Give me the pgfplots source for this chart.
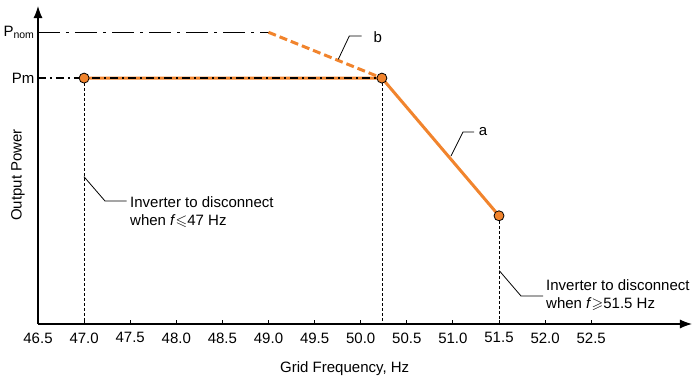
\documentclass[border=0pt]{standalone}
\usepackage{pgfplots}
\pgfplotsset{compat=1.18}
\usepackage{amssymb}
\usepackage{fontspec}
\setmainfont{Liberation Sans}
\usetikzlibrary{arrows.meta}
\definecolor{myorange}{RGB}{241,132,45}
\begin{document}
\begin{tikzpicture}[font=\fontsize{15}{18}\selectfont]
\useasboundingbox (-38pt,-58pt) rectangle (657pt,324pt);
\begin{axis}[
  at={(0,0)}, anchor=south west,
  x=92.2pt, y=291.7pt,
  xmin=46.5, xmax=53.593, ymin=0, ymax=1.090,
  axis lines=left,
  axis line style={line width=1.1pt, -{Latex[length=12pt,width=9pt]}},
  xtick={46.5,47.0,47.5,48.0,48.5,49.0,49.5,50.0,50.5,51.0,51.5,52.0,52.5},
  xticklabel style={yshift=-5pt, /pgf/number format/.cd, fixed, fixed zerofill, precision=1, assume math mode=true},
  ytick={0.843,1}, yticklabels={Pm, P\textsubscript{nom}},
  y tick style={draw=none},
  tick align=inside,
  major tick length=4pt,
  x tick style={black, line width=1pt},
  xlabel={Grid Frequency, Hz},
  ylabel={Output Power},
  xlabel style={at={(axis description cs:0.469,-0.140)}, anchor=center},
  ylabel style={at={(axis description cs:-0.0306,0.469)}, anchor=center},
  clip=false,
]
\addplot[black, line width=1.5pt, dash pattern=on 22pt off 6pt on 3pt off 6pt] coordinates {(46.5,1) (49.0,1)};
\addplot[myorange, line width=3pt, dash pattern=on 8pt off 4pt] coordinates {(49.0,1) (50.23,0.843)};
\addplot[myorange, line width=3pt] coordinates {(47.0,0.843) (50.23,0.843) (51.5,0.371)};
\addplot[black, line width=1.2pt, dash pattern=on 8pt off 4pt on 2pt off 4pt] coordinates {(46.5,0.843) (50.23,0.843)};
\addplot[black, line width=0.6pt, dash pattern=on 3pt off 2pt] coordinates {(47.0,0.843) (47.0,0)};
\addplot[black, line width=0.6pt, dash pattern=on 3pt off 2pt] coordinates {(50.23,0.843) (50.23,0)};
\addplot[black, line width=0.6pt, dash pattern=on 3pt off 2pt] coordinates {(51.5,0.371) (51.5,0)};
\addplot[only marks, mark=*, mark size=5pt, mark options={fill=myorange, draw=black, line width=0.8pt}] coordinates {(47.0,0.843) (50.23,0.843) (51.5,0.371)};
\end{axis}
% annotations
\draw[line width=0.8pt] (300.3pt,264.7pt) -- (311.3pt,288pt) -- (323.7pt,288pt);
\node at (339.7pt,287.3pt) {b};
\draw[line width=0.8pt] (413pt,168pt) -- (425pt,192pt) -- (436pt,192pt);
\node at (445pt,192pt) {a};
\draw[line width=0.8pt] (46pt,147.3pt) -- (67pt,123pt) -- (88.7pt,123pt);
\node[anchor=west, align=left, inner sep=0pt] at (92pt,112.3pt) {Inverter to disconnect\\when \textit{f}$\leqslant$47 Hz};
\draw[line width=0.8pt] (461.3pt,53.3pt) -- (483pt,28pt) -- (505pt,28pt);
\node[anchor=west, align=left, inner sep=0pt] at (508pt,28.5pt) {Inverter to disconnect\\when \textit{f}$\geqslant$51.5 Hz};
\end{tikzpicture}
\end{document}
